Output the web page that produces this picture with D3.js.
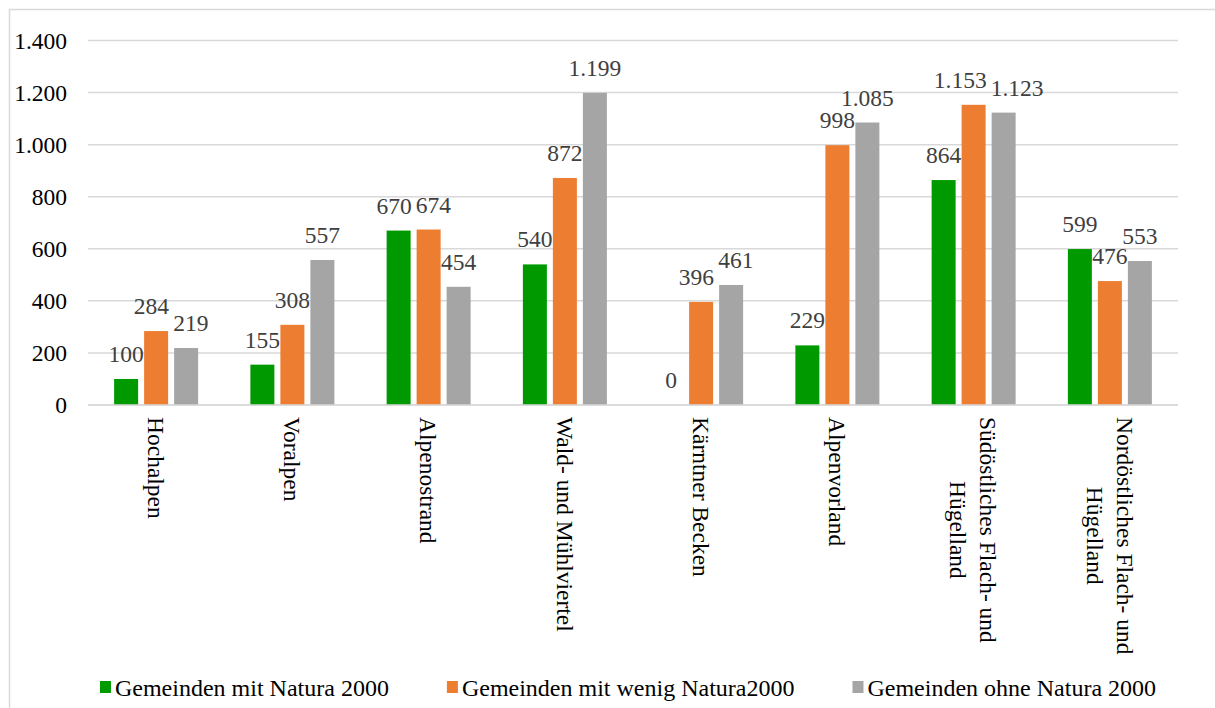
<!DOCTYPE html>
<html>
<head>
<meta charset="utf-8">
<script src="https://cdn.jsdelivr.net/npm/d3@7"></script>
<style>
  body { margin: 0; background: #fff; }
  svg, svg text { font-family: "Liberation Serif", "Times New Roman", serif; }
</style>
</head>
<body>
<svg id="chart"></svg>
<script>
// chart data
var categories = ["Hochalpen", "Voralpen", "Alpenostrand", "Wald- und Mühlviertel", "Kärntner Becken",
                  "Alpenvorland", "Südöstliches Flach- und Hügelland", "Nordöstliches Flach- und Hügelland"];
var seriesNames = ["Gemeinden mit Natura 2000", "Gemeinden mit wenig Natura2000", "Gemeinden ohne Natura 2000"];
var mitNatura = [100, 155, 670, 540, 0, 229, 864, 599];
var wenigNatura = [284, 308, 674, 872, 396, 998, 1153, 476];
var ohneNatura = [219, 557, 454, 1199, 461, 1085, 1123, 553];
var yTicks = [0, 200, 400, 600, 800, 1000, 1200, 1400];
var colors = ["#009a00", "#ed7d31", "#a5a5a5"];

var width = 1215, height = 708;
var margin = {top: 40.5, right: 37, bottom: 303, left: 88};
var w = width - margin.left - margin.right;
var h = height - margin.top - margin.bottom;
var fontSize = 23.5;

var svg = d3.select("#chart").attr("width", width).attr("height", height);

// outer frame
svg.append("rect")
  .attr("x", 9.5).attr("y", 9.5)
  .attr("width", width + 20).attr("height", height + 20)
  .attr("fill", "none").attr("stroke", "#d9d9d9").attr("stroke-width", 1.5);

var chart = svg.append("g")
  .attr("transform", "translate(" + margin.left + "," + margin.top + ")");

var x0 = d3.scaleBand().domain(categories).range([0, w]);
var x1 = d3.scaleBand().domain(seriesNames).range([-42, 42]).paddingInner(0.2);
var y = d3.scaleLinear().domain([0, 1400]).range([h, 0]);

var fmt = d3.formatLocale({decimal: ",", thousands: ".", grouping: [3], currency: ["", " €"]}).format(",d");

// gridlines
chart.append("g")
  .selectAll("line")
  .data(yTicks)
  .enter().append("line")
    .attr("x1", 0).attr("x2", w)
    .attr("y1", function(d) { return y(d); })
    .attr("y2", function(d) { return y(d); })
    .attr("stroke", "#d9d9d9").attr("stroke-width", 1.5);

// y axis labels
var yAxis = d3.axisLeft(y).tickValues(yTicks).tickFormat(fmt).tickSize(0).tickPadding(21);
var yg = chart.append("g").call(yAxis);
yg.attr("font-family", null).attr("font-size", null);
yg.select(".domain").remove();
yg.selectAll("text")
  .style("font-size", fontSize + "px")
  .attr("fill", "#000");

// bars
var rows = categories.map(function(c, i) {
  return {cat: c, vals: [mitNatura[i], wenigNatura[i], ohneNatura[i]]};
});

var groups = chart.selectAll(".group")
  .data(rows)
  .enter().append("g")
    .attr("class", "group")
    .attr("transform", function(d) { return "translate(" + (x0(d.cat) + x0.bandwidth() / 2) + ",0)"; });

groups.selectAll("rect")
  .data(function(d) { return d.vals.map(function(v, j) { return {s: seriesNames[j], v: v, j: j}; }); })
  .enter().append("rect")
    .attr("x", function(d) { return x1(d.s); })
    .attr("width", x1.bandwidth())
    .attr("y", function(d) { return y(d.v); })
    .attr("height", function(d) { return h - y(d.v); })
    .attr("fill", function(d) { return colors[d.j]; });

groups.each(function() {
  var lbls = d3.select(this).selectAll(".lbl")
    .data(function(d) { return d.vals.map(function(v, j) { return {s: seriesNames[j], v: v}; }); })
    .enter().append("text")
      .attr("class", "lbl")
      .attr("x", function(d) { return x1(d.s) + x1.bandwidth() / 2; })
      .attr("y", function(d) { return y(d.v) - 17; })
      .attr("text-anchor", "middle")
      .style("font-size", fontSize + "px")
      .attr("fill", "#404040")
      .text(function(d) { return fmt(d.v); });

  // push neighbouring labels apart when they collide
  var nodes = lbls.nodes();
  for (var k = 1; k < nodes.length; k++) {
    var a = nodes[k - 1].getBBox(), b = nodes[k].getBBox();
    var overlapX = a.x + a.width + 4 - b.x;
    var overlapY = Math.min(a.y + a.height, b.y + b.height) - Math.max(a.y, b.y);
    if (overlapX > 0 && overlapY > 6) {
      d3.select(nodes[k - 1]).attr("x", +d3.select(nodes[k - 1]).attr("x") - overlapX / 2);
      d3.select(nodes[k]).attr("x", +d3.select(nodes[k]).attr("x") + overlapX / 2);
    }
  }
});

// x axis line
chart.append("line")
  .attr("x1", 0).attr("x2", w)
  .attr("y1", h).attr("y2", h)
  .attr("stroke", "#d9d9d9").attr("stroke-width", 1.5);

// rotated category labels, wrapped to a max length
var maxLen = 240;
var labG = chart.selectAll(".cat")
  .data(categories)
  .enter().append("g")
    .attr("class", "cat")
    .attr("transform", function(d) { return "translate(" + (x0(d) + x0.bandwidth() / 2) + "," + (h + 12) + ") rotate(90)"; });

labG.each(function(d) {
  var g = d3.select(this);
  var words = d.split(" ");
  var lines = [], line = [];
  var probe = g.append("text").style("font-size", fontSize + "px");
  words.forEach(function(wd) {
    line.push(wd);
    probe.text(line.join(" "));
    if (probe.node().getComputedTextLength() > maxLen && line.length > 1) {
      line.pop();
      lines.push(line.join(" "));
      line = [wd];
    }
  });
  lines.push(line.join(" "));
  var blockW = 0;
  lines.forEach(function(l) {
    probe.text(l);
    blockW = Math.max(blockW, probe.node().getComputedTextLength());
  });
  probe.remove();
  var lh = 30;
  var off = -(lines.length - 1) * lh / 2;
  lines.forEach(function(l, k) {
    g.append("text")
      .attr("x", blockW / 2)
      .attr("y", off + k * lh)
      .attr("dy", "0.35em")
      .attr("text-anchor", "middle")
      .style("font-size", fontSize + "px")
      .attr("fill", "#000")
      .text(l);
  });
});

// legend
var legend = svg.append("g").attr("transform", "translate(0,696)");
var items = legend.selectAll(".item")
  .data(seriesNames)
  .enter().append("g").attr("class", "item");
items.append("rect")
  .attr("y", -15).attr("width", 11).attr("height", 12)
  .attr("fill", function(d, i) { return colors[i]; });
items.append("text")
  .attr("x", 15)
  .style("font-size", "24px")
  .attr("fill", "#000")
  .text(function(d) { return d; });
var widths = [];
items.each(function() {
  widths.push(15 + d3.select(this).select("text").node().getComputedTextLength());
});
var gap = 58;
var totalW = d3.sum(widths) + gap * (widths.length - 1);
var lx = 628 - totalW / 2;
items.attr("transform", function(d, i) {
  var xx = lx;
  lx += widths[i] + gap;
  return "translate(" + xx + ",0)";
});
</script>
</body>
</html>
